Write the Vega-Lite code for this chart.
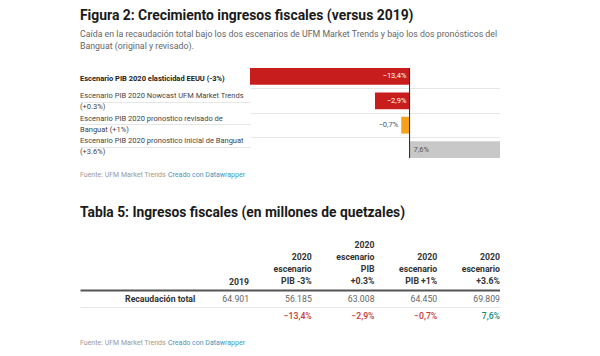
{
  "$schema": "https://vega.github.io/schema/vega-lite/v6.json",
  "background": "white",
  "padding": {"left": 80, "top": 8, "right": 0, "bottom": 0},
  "config": {
    "view": {"stroke": null},
    "font": "Roboto",
    "locale": {"number": {"decimal": ",", "thousands": ".", "grouping": [3], "currency": ["", ""], "minus": "−"}},
    "concat": {"spacing": 0}
  },
  "datasets": {
    "esc": [
      {"row": 1, "escenario": "Escenario PIB 2020 elasticidad EEUU (-3%)", "v": -0.134},
      {"row": 2, "escenario": "Escenario PIB 2020 Nowcast UFM Market Trends\n(+0.3%)", "v": -0.029},
      {"row": 3, "escenario": "Escenario PIB 2020 pronostico revisado de\nBanguat (+1%)", "v": -0.007},
      {"row": 4, "escenario": "Escenario PIB 2020 pronostico inicial de Banguat\n(+3.6%)", "v": 0.076}
    ],
    "tabla": [
      {"col": "c0", "encabezado": "2019", "monto": 64901},
      {"col": "c1", "encabezado": "2020\nescenario\nPIB -3%", "monto": 56185, "var": -0.134},
      {"col": "c2", "encabezado": "2020\nescenario\nPIB\n+0.3%", "monto": 63008, "var": -0.029},
      {"col": "c3", "encabezado": "2020\nescenario\nPIB +1%", "monto": 64450, "var": -0.007},
      {"col": "c4", "encabezado": "2020\nescenario\n+3.6%", "monto": 69809, "var": 0.076}
    ],
    "fuente": [
      {"parte": "f", "texto": "Fuente: UFM Market Trends · "},
      {"parte": "d", "texto": "Creado con Datawrapper"}
    ]
  },
  "spacing": 0,
  "vconcat": [
    {
      "title": {
        "text": "Figura 2: Crecimiento ingresos fiscales (versus 2019)",
        "subtitle": ["Caída en la recaudación total bajo los dos escenarios de UFM Market Trends y bajo los dos pronósticos del", "Banguat (original y revisado)."],
        "anchor": "start",
        "frame": "group",
        "fontSize": 13.9,
        "fontWeight": "bold",
        "color": "#1a1a1a",
        "subtitleFontSize": 8.8,
        "subtitleColor": "#666666",
        "subtitlePadding": 7,
        "subtitleLineHeight": 12,
        "offset": 17
      },
      "spacing": 0,
      "hconcat": [
        {
          "width": 170,
          "height": 90,
          "data": {"name": "esc"},
          "encoding": {
            "y": {"field": "row", "type": "ordinal", "scale": {"paddingInner": 0.31, "paddingOuter": 0}, "axis": {"labels": false, "ticks": false, "domain": false, "title": null, "grid": true, "gridColor": "#e6e6e6", "bandPosition": -0.2246, "values": [2, 3, 4]}},
            "x": {"datum": 0, "type": "quantitative", "scale": {"domain": [0, 1]}, "axis": null},
            "text": {"field": "escenario"}
          },
          "layer": [
            {
              "transform": [{"filter": "datum.row == 1"}],
              "mark": {"type": "text", "align": "left", "baseline": "middle", "fontSize": 7.5, "fontWeight": "bold", "color": "#222222"}
            },
            {
              "transform": [{"filter": "datum.row > 1"}],
              "mark": {"type": "text", "align": "left", "baseline": "middle", "lineBreak": "\n", "fontSize": 7.5, "lineHeight": 11, "dy": -5.5, "color": "#444444"}
            }
          ]
        },
        {
          "width": 250,
          "height": 90,
          "data": {"name": "esc"},
          "layer": [
            {
              "mark": {"type": "bar"},
              "encoding": {
                "y": {"field": "row", "type": "ordinal", "scale": {"paddingInner": 0.31, "paddingOuter": 0}, "axis": {"labels": false, "ticks": false, "domain": false, "title": null, "grid": true, "gridColor": "#e6e6e6", "bandPosition": -0.2246, "values": [2, 3, 4]}},
                "x": {"field": "v", "type": "quantitative", "scale": {"domain": [-0.134, 0.076], "nice": false}, "axis": null},
                "color": {"field": "row", "type": "ordinal", "scale": {"range": ["#c71e1d", "#c71e1d", "#f5a11c", "#c8c8c8"]}, "legend": null}
              }
            },
            {
              "mark": {"type": "rule", "color": "#333333", "strokeWidth": 1},
              "encoding": {"x": {"datum": 0, "type": "quantitative"}}
            },
            {
              "transform": [{"filter": "datum.v < -0.02"}],
              "mark": {"type": "text", "align": "right", "baseline": "middle", "dx": -3, "fontSize": 7.5, "color": "white"},
              "encoding": {
                "y": {"field": "row", "type": "ordinal"},
                "x": {"datum": 0, "type": "quantitative"},
                "text": {"field": "v", "format": ".1%"}
              }
            },
            {
              "transform": [{"filter": "datum.v >= -0.02 && datum.v < 0"}],
              "mark": {"type": "text", "align": "right", "baseline": "middle", "dx": -3, "fontSize": 7.5, "color": "#555555"},
              "encoding": {
                "y": {"field": "row", "type": "ordinal"},
                "x": {"field": "v", "type": "quantitative"},
                "text": {"field": "v", "format": ".1%"}
              }
            },
            {
              "transform": [{"filter": "datum.v > 0"}],
              "mark": {"type": "text", "align": "left", "baseline": "middle", "dx": 4, "fontSize": 7.5, "color": "#555555"},
              "encoding": {
                "y": {"field": "row", "type": "ordinal"},
                "x": {"datum": 0, "type": "quantitative"},
                "text": {"field": "v", "format": ".1%"}
              }
            }
          ]
        }
      ]
    },
    {
      "width": 420,
      "height": 46,
      "data": {"name": "fuente"},
      "encoding": {
        "x": {"datum": 0, "type": "quantitative", "scale": {"domain": [0, 1]}, "axis": null},
        "text": {"field": "texto"}
      },
      "layer": [
        {"transform": [{"filter": "datum.parte == 'f'"}], "mark": {"type": "text", "align": "left", "baseline": "middle", "dy": -7, "fontSize": 7, "color": "#999999"}},
        {"transform": [{"filter": "datum.parte == 'd'"}], "mark": {"type": "text", "align": "left", "baseline": "middle", "dy": -7, "fontSize": 7, "dx": 88, "color": "#3a98c4"}}
      ]
    },
    {
      "title": {
        "text": "Tabla 5: Ingresos fiscales (en millones de quetzales)",
        "anchor": "start",
        "frame": "group",
        "fontSize": 13.8,
        "fontWeight": "bold",
        "color": "#1a1a1a",
        "offset": 21
      },
      "width": 420,
      "height": 51,
      "data": {"name": "tabla"},
      "layer": [
        {
          "transform": [{"filter": "length(split(datum.encabezado, '\\n')) == 1"}],
          "mark": {"type": "text", "align": "right", "baseline": "middle", "fontSize": 8.7, "fontWeight": "bold", "color": "#333333"},
          "encoding": {
            "x": {"field": "col", "type": "ordinal", "scale": {"type": "point", "domain": ["label", "c0", "c1", "c2", "c3", "c4"], "padding": 0.847, "align": 1}, "axis": null},
            "y": {"datum": "header", "type": "ordinal", "scale": {"type": "band", "domain": ["header", "main", "pct"], "paddingInner": 0, "paddingOuter": 0}, "axis": {"labels": false, "ticks": false, "domain": false, "title": null, "grid": true, "bandPosition": 0, "values": ["main", "pct"], "gridColor": {"condition": {"test": "datum.value == 'main'", "value": "#555555"}, "value": "#e6e6e6"}, "gridWidth": {"condition": {"test": "datum.value == 'main'", "value": 2}, "value": 1}}},
            "text": {"field": "encabezado"}
          }
        },
        {
          "transform": [{"filter": "length(split(datum.encabezado, '\\n')) == 3"}],
          "mark": {"type": "text", "align": "right", "baseline": "middle", "lineBreak": "\n", "lineHeight": 12.3, "dy": -24.6, "fontSize": 8.7, "fontWeight": "bold", "color": "#333333"},
          "encoding": {
            "x": {"field": "col", "type": "ordinal"},
            "y": {"datum": "header", "type": "ordinal"},
            "text": {"field": "encabezado"}
          }
        },
        {
          "transform": [{"filter": "length(split(datum.encabezado, '\\n')) == 4"}],
          "mark": {"type": "text", "align": "right", "baseline": "middle", "lineBreak": "\n", "lineHeight": 12.3, "dy": -36.9, "fontSize": 8.7, "fontWeight": "bold", "color": "#333333"},
          "encoding": {
            "x": {"field": "col", "type": "ordinal"},
            "y": {"datum": "header", "type": "ordinal"},
            "text": {"field": "encabezado"}
          }
        },
        {
          "mark": {"type": "text", "align": "right", "baseline": "middle", "fontSize": 8.7, "color": "#666666"},
          "encoding": {
            "x": {"field": "col", "type": "ordinal"},
            "y": {"datum": "main", "type": "ordinal"},
            "text": {"field": "monto", "type": "quantitative", "format": ","}
          }
        },
        {
          "transform": [{"filter": "isValid(datum.var)"}],
          "mark": {"type": "text", "align": "right", "baseline": "middle", "fontSize": 8.7, "fontWeight": 500},
          "encoding": {
            "x": {"field": "col", "type": "ordinal"},
            "y": {"datum": "pct", "type": "ordinal"},
            "text": {"field": "var", "type": "quantitative", "format": ".1%"},
            "color": {"condition": {"test": "datum.var < 0", "value": "#c53b3b"}, "value": "#1b8a6b"}
          }
        },
        {
          "transform": [{"filter": "datum.col == 'c0'"}],
          "mark": {"type": "text", "align": "right", "baseline": "middle", "dx": 9, "fontSize": 8.7, "fontWeight": "bold", "color": "#333333"},
          "encoding": {
            "x": {"datum": "label", "type": "ordinal"},
            "y": {"datum": "main", "type": "ordinal"},
            "text": {"value": "Recaudación total"}
          }
        }
      ]
    },
    {
      "width": 420,
      "height": 38,
      "data": {"name": "fuente"},
      "encoding": {
        "x": {"datum": 0, "type": "quantitative", "scale": {"domain": [0, 1]}, "axis": null},
        "text": {"field": "texto"}
      },
      "layer": [
        {"transform": [{"filter": "datum.parte == 'f'"}], "mark": {"type": "text", "align": "left", "baseline": "middle", "fontSize": 7, "color": "#999999"}},
        {"transform": [{"filter": "datum.parte == 'd'"}], "mark": {"type": "text", "align": "left", "baseline": "middle", "fontSize": 7, "dx": 88, "color": "#3a98c4"}}
      ]
    }
  ]
}
